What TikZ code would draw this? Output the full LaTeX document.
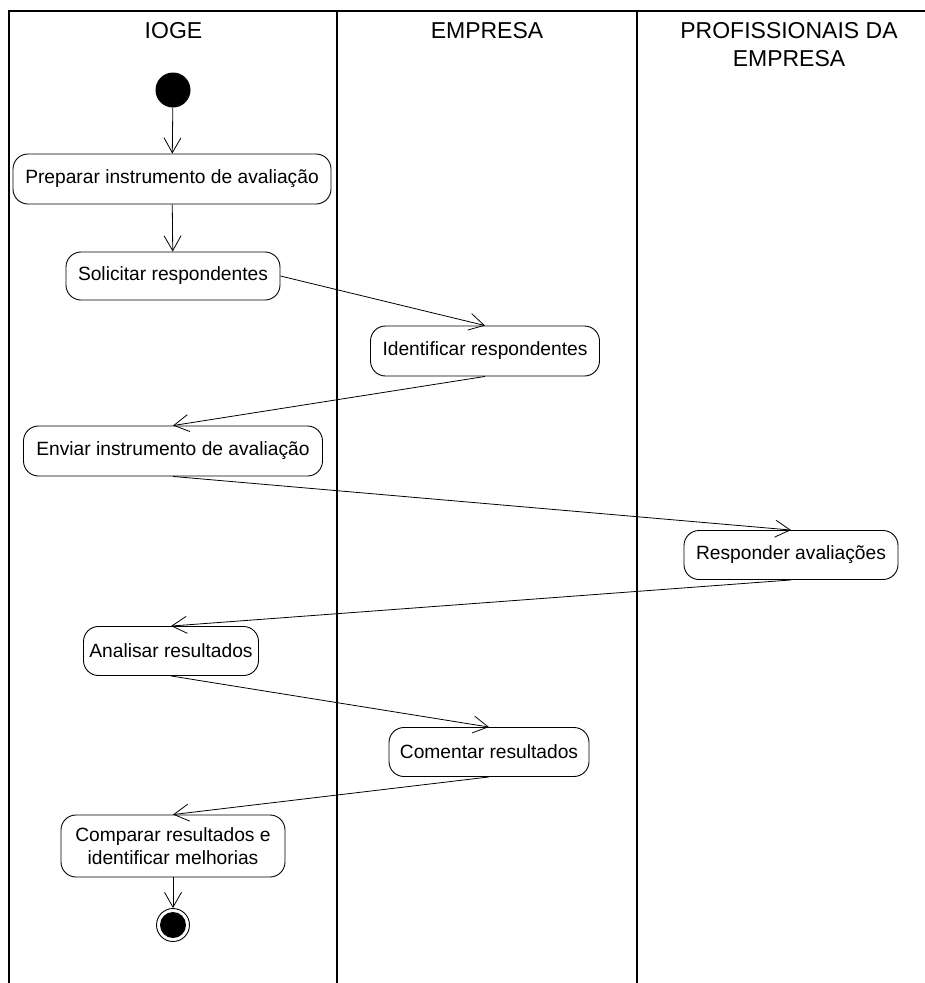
\documentclass[tikz,border=0pt]{standalone}
\usepackage{fontspec}
\setmainfont{Liberation Sans}
\usetikzlibrary{arrows.meta}
\begin{document}
\begin{tikzpicture}[x=1pt,y=-1pt,
  lane/.style={line width=1.1pt},
  act/.style={draw, line width=0.9pt, rounded corners=15pt, align=center, inner sep=0pt,
    font=\fontsize{19.2}{23}\selectfont},
  hdr/.style={align=center, inner sep=0pt, font=\fontsize{23}{28}\selectfont},
  flow/.style={line width=0.8pt, -{Straight Barb[length=15pt,width=17pt,line width=0.8pt]}}
]
\useasboundingbox (0,0) rectangle (925,983);
% swimlanes
\draw[lane] (9,983) -- (9,11) -- (925,11);
\draw[lane] (337,11) -- (337,983);
\draw[lane] (637,11) -- (637,983);
% headers
\node[hdr] (h1) at (173.5,31) {IOGE};
\node[hdr] (h2) at (487,31) {EMPRESA};
\node[hdr] (h3) at (789,45) {PROFISSIONAIS DA\\EMPRESA};
% start / end
\node[circle, fill=black, minimum size=35pt, inner sep=0pt] (start) at (173,90) {};
\node[circle, draw, line width=0.9pt, minimum size=33pt, inner sep=0pt] (endo) at (173,925) {};
\node[circle, fill=black, minimum size=26pt, inner sep=0pt] (endi) at (173,925) {};
% activities
\node[act, minimum width=318pt, minimum height=50pt] (n1) at (172,179) {Preparar instrumento de avaliação};
\node[act, minimum width=214pt, minimum height=48pt] (n2) at (173,276) {Solicitar respondentes};
\node[act, minimum width=229pt, minimum height=50pt] (n3) at (485,351) {Identificar respondentes};
\node[act, minimum width=299pt, minimum height=50pt] (n4) at (173,451) {Enviar instrumento de avaliação};
\node[act, minimum width=214pt, minimum height=49pt] (n5) at (791,555) {Responder avaliações};
\node[act, minimum width=175pt, minimum height=49pt] (n6) at (171,651) {Analisar resultados};
\node[act, minimum width=200pt, minimum height=49pt] (n7) at (489,752) {Comentar resultados};
\node[act, minimum width=224pt, minimum height=62pt] (n8) at (173,846) {Comparar resultados e\\identificar melhorias};
% flows
\draw[flow] (start) -- (n1);
\draw[flow] (n1) -- (n2);
\draw[flow] (n2.east) -- (n3.north);
\draw[flow] (n3.south) -- (n4.north);
\draw[flow] (n4.south) -- (n5.north);
\draw[flow] (n5.south) -- (n6.north);
\draw[flow] (n6.south) -- (n7.north);
\draw[flow] (n7.south) -- (n8.north);
\draw[flow] (n8) -- (endo);
\end{tikzpicture}
\end{document}
